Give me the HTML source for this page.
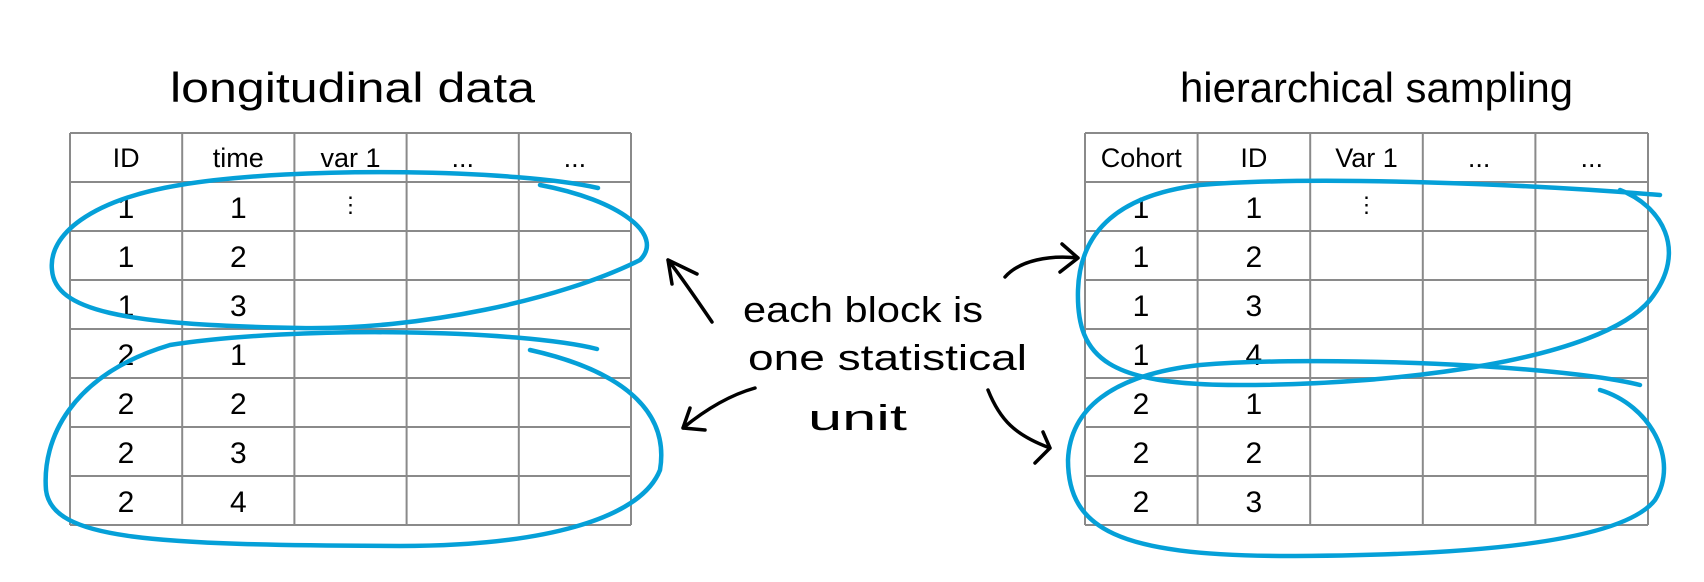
<!DOCTYPE html>
<html><head><meta charset="utf-8"><style>
body{margin:0;background:#fff;}
svg{display:block;}
text{font-family:"Liberation Sans",sans-serif;fill:#000;}
</style></head><body>
<svg width="1704" height="582" viewBox="0 0 1704 582">
<text x="170" y="102" font-size="42" textLength="365" lengthAdjust="spacingAndGlyphs">longitudinal data</text>
<text x="1180" y="102" font-size="42" textLength="393" lengthAdjust="spacingAndGlyphs">hierarchical sampling</text>
<g id="lt" stroke="#8a8a8a" stroke-width="2" fill="none"></g>
<g id="rt" stroke="#8a8a8a" stroke-width="2" fill="none"></g>
<g id="cells" font-size="30" text-anchor="middle"></g>
<g fill="none" stroke="#05a0d8" stroke-width="4.5" stroke-linecap="round">
<path d="M598,188 C520,170 300,165 180,185 C90,200 48,235 52,270 C55,310 120,325 300,328 C420,330 560,300 640,260 C665,235 620,200 540,185"/>
<path d="M597,349 C520,330 300,325 170,345 C70,375 42,440 46,490 C52,540 150,545 400,546 C540,546 640,520 660,470 C670,410 620,370 530,350"/>
<path d="M1660,195 C1540,185 1320,175 1200,185 C1120,195 1080,230 1078,290 C1076,360 1110,385 1240,385 C1400,385 1600,360 1650,300 C1690,250 1660,205 1620,190"/>
<path d="M1640,385 C1560,365 1320,355 1200,365 C1110,375 1070,410 1068,460 C1068,530 1120,555 1280,556 C1450,556 1620,545 1655,500 C1680,460 1650,405 1600,390"/>
</g>
<g fill="none" stroke="#000" stroke-width="3.5" stroke-linecap="round">
<path d="M712,322 C695,297 680,275 668,260 M668,260 L672,284 M668,260 L697,274"/>
<path d="M755,388 C730,395 705,410 683,428 M683,428 L690,408 M683,428 L705,430"/>
<path d="M1005,277 C1020,260 1050,255 1078,258 M1078,258 L1062,244 M1078,258 L1060,272"/>
<path d="M988,390 C1000,420 1015,435 1050,448 M1050,448 L1043,432 M1050,448 L1035,463"/>
</g>
<text x="743" y="322" font-size="36" textLength="240" lengthAdjust="spacingAndGlyphs">each block is</text>
<text x="748" y="370" font-size="36" textLength="279" lengthAdjust="spacingAndGlyphs">one statistical</text>
<text x="808" y="430" font-size="36" textLength="99" lengthAdjust="spacingAndGlyphs">unit</text>
</svg>
<script>
const leftHeaders=["ID","time","var 1","...","..."];
const leftIds=["1","1","1","2","2","2","2"];
const leftTimes=["1","2","3","1","2","3","4"];
const rightHeaders=["Cohort","ID","Var 1","...","..."];
const rightCohorts=["1","1","1","1","2","2","2"];
const rightIds=["1","2","3","4","1","2","3"];
const NS="http://www.w3.org/2000/svg";
function grid(g,x0,cw,y0,rh,nc,nr){
  for(let i=0;i<=nc;i++){const l=document.createElementNS(NS,'line');l.setAttribute('x1',x0+i*cw);l.setAttribute('x2',x0+i*cw);l.setAttribute('y1',y0);l.setAttribute('y2',y0+nr*rh);g.appendChild(l);}
  for(let j=0;j<=nr;j++){const l=document.createElementNS(NS,'line');l.setAttribute('y1',y0+j*rh);l.setAttribute('y2',y0+j*rh);l.setAttribute('x1',x0);l.setAttribute('x2',x0+nc*cw);g.appendChild(l);}
}
function txt(x,y,s,size){const t=document.createElementNS(NS,'text');t.setAttribute('x',x);t.setAttribute('y',y);if(size)t.setAttribute('font-size',size);t.textContent=s;


document.getElementById('cells').appendChild(t);}
const y0=133,rh=49;
grid(document.getElementById('lt'),70,112.2,y0,rh,5,8);
grid(document.getElementById('rt'),1085,112.6,y0,rh,5,8);
leftHeaders.forEach((h,i)=>txt(70+112.2*(i+0.5),y0+34,h,27));
rightHeaders.forEach((h,i)=>txt(1085+112.6*(i+0.5),y0+34,h,27));
leftIds.forEach((v,j)=>{txt(70+56,y0+rh*(j+1)+36,v);txt(70+112.2*1.5,y0+rh*(j+1)+36,leftTimes[j]);});
rightCohorts.forEach((v,j)=>{txt(1085+56,y0+rh*(j+1)+36,v);txt(1085+112.6*1.5,y0+rh*(j+1)+36,rightIds[j]);});
txt(70+112.2*2.5,y0+rh+30,"⋮",22);
txt(1085+112.6*2.5,y0+rh+30,"⋮",22);
</script>
</body></html>
